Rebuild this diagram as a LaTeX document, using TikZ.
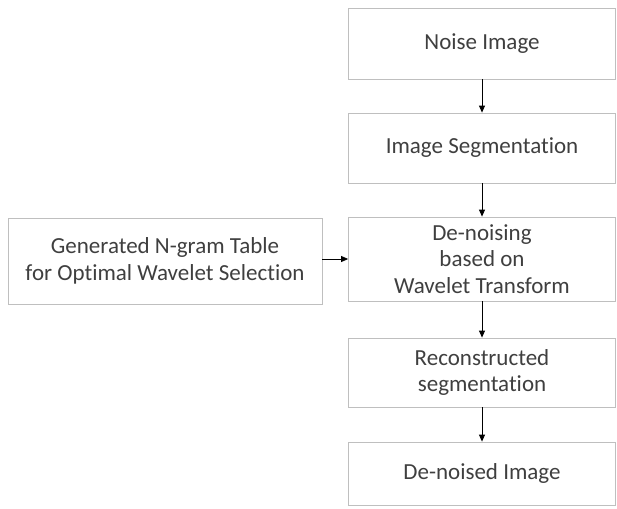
\documentclass[tikz,border=0pt]{standalone}
\usepackage{fontspec}
\setmainfont{Carlito}[Ligatures=NoCommon]
\usetikzlibrary{arrows.meta}
\definecolor{boxline}{HTML}{BFBFBF}
\definecolor{txt}{HTML}{3F3F3F}
\tikzset{
  x=1pt,y=-1pt,
  box/.style={draw=boxline,line width=0.8pt,text=txt,font=\fontsize{23}{26.5}\selectfont,align=center,inner sep=0pt},
  conn/.style={draw=black,line width=0.8pt,-{Triangle[length=7pt,width=6pt]}}
}
\begin{document}
\begin{tikzpicture}
\useasboundingbox (0,0) rectangle (617,508);
\node[box,minimum width=267pt,minimum height=71pt] (n1) at (482,43.5) {Noise Image};
\node[box,minimum width=267pt,minimum height=70pt] (n2) at (482,148) {Image Segmentation};
\node[box,minimum width=267pt,minimum height=84pt] (n3) at (482,259) {De-noising\\based on\\Wavelet Transform};
\node[box,minimum width=314pt,minimum height=86pt] (g) at (165,261) {Generated N-gram Table\\for Optimal Wavelet Selection};
\node[box,minimum width=267pt,minimum height=69pt] (n4) at (482,372.5) {Reconstructed\\segmentation};
\node[box,minimum width=267pt,minimum height=63pt] (n5) at (482,473.5) {De-noised Image};
\draw[conn] (n1) -- (n2);
\draw[conn] (n2) -- (n3);
\draw[conn] (g.east |- n3) -- (n3.west);
\draw[conn] (n3) -- (n4);
\draw[conn] (n4) -- (n5);
\end{tikzpicture}
\end{document}
